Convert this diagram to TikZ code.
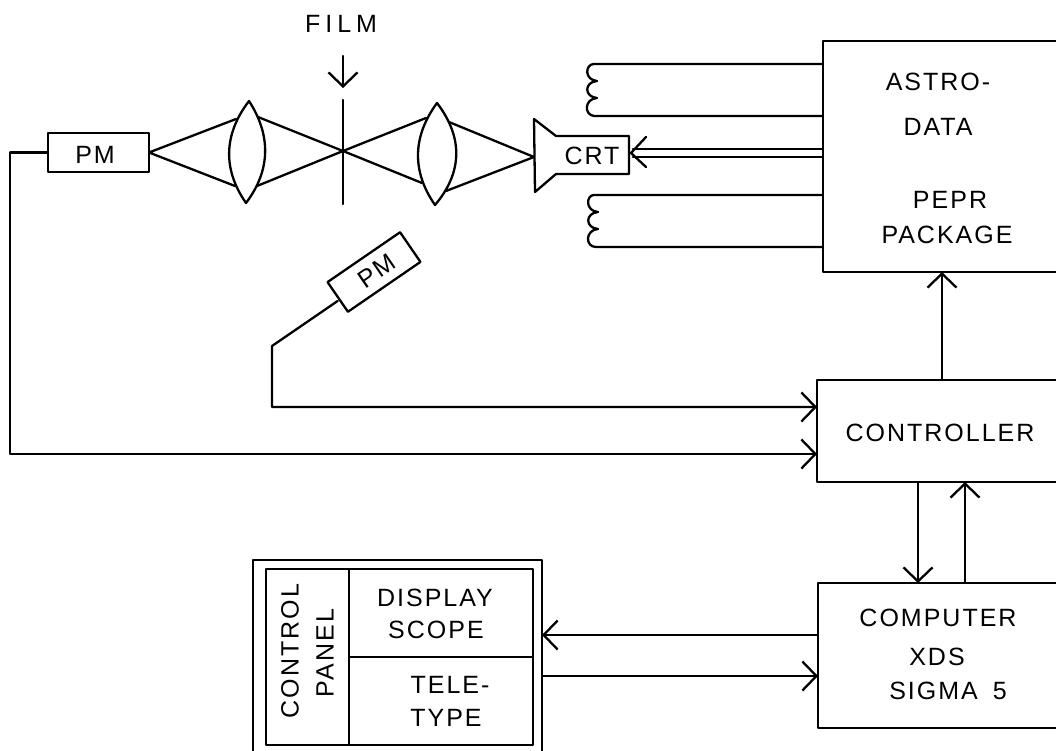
\documentclass[tikz,border=0pt]{standalone}
\usepackage{fontspec}
\setmainfont{Liberation Sans}[LetterSpace=8]
\newfontface\widefont{Liberation Sans}[LetterSpace=20]
\usetikzlibrary{arrows.meta}
\tikzset{
  ln/.style={line width=2.3pt,line join=round,line cap=round},
  boxn/.style={draw,ln,rectangle,inner sep=0pt,outer sep=0pt,anchor=north west},
  lbl/.style={inner sep=0pt,font=\fontsize{25}{28}\selectfont,anchor=center},
  arr/.style={ln,-{Straight Barb[length=14pt,width=29pt,line width=2.3pt]}},
}
\begin{document}
\begin{tikzpicture}[x=1pt,y=-1pt]
\clip (0,0) rectangle (1056,751);
\useasboundingbox (0,0) rectangle (1056,751);
% boxes
\node[boxn,minimum width=101pt,minimum height=39pt] (pma) at (48,133) {};
\node[boxn,minimum width=260pt,minimum height=231pt] (astro) at (823,41) {};
\node[boxn,minimum width=260pt,minimum height=102pt] (ctrl) at (817,380) {};
\node[boxn,minimum width=260pt,minimum height=145pt] (comp) at (818,583) {};
\node[boxn,minimum width=289pt,minimum height=210pt] (outer) at (253,560) {};
\node[boxn,minimum width=267pt,minimum height=176pt] (inner) at (266,569) {};
\node[draw,ln,rectangle,inner sep=0pt,outer sep=0pt,minimum width=88pt,minimum height=36pt,rotate=34.5] (pmb) at (374,272) {};
% panel dividers
\coordinate (vt) at (349,569); \coordinate (vb) at (349,745);
\coordinate (hl) at (349,657); \coordinate (hr) at (533,657);
\draw[ln] (vt) -- (vb);
\draw[ln] (hl) -- (hr);
% labels
\node[lbl] (tfilm) at (341,24) {\widefont FILM};
\node[lbl] (tpma) at (95,155) {PM};
\node[lbl,rotate=34.5] (tpmb) at (377,271) {PM};
\node[lbl] (tcrt) at (592,156) {CRT};
\node[lbl] (t1) at (938,82) {ASTRO-};
\node[lbl] (t2) at (938,127) {DATA};
\node[lbl] (t3) at (950,200) {PEPR};
\node[lbl] (t4) at (947,235) {PACKAGE};
\node[lbl] (t5) at (940,433) {CONTROLLER};
\node[lbl] (t6) at (938,618) {COMPUTER};
\node[lbl] (t7) at (937,657) {XDS};
\node[lbl] (t8) at (948,691) {SIGMA\hspace{6pt} 5};
\node[lbl] (t9) at (435,598) {DISPLAY};
\node[lbl] (t10) at (436,630) {SCOPE};
\node[lbl] (t11) at (450,685) {TELE-};
\node[lbl] (t12) at (446,718) {TYPE};
\node[lbl,rotate=90] (t13) at (290,651) {CONTROL};
\node[lbl,rotate=90] (t14) at (325,653) {PANEL};
% lenses and film
\coordinate (lat) at (249,101); \coordinate (lab) at (246,203);
\coordinate (lbt) at (437,103); \coordinate (lbb) at (435,205);
\draw[ln] (lat) .. controls (223,135) and (223,170) .. (lab) .. controls (271,170) and (271,135) .. (lat) -- cycle;
\draw[ln] (lbt) .. controls (412,137) and (412,172) .. (lbb) .. controls (463,172) and (463,137) .. (lbt) -- cycle;
\coordinate (fa) at (343,100); \coordinate (fb) at (343,204); \coordinate (fc) at (343,151);
\draw[ln] (fa) -- (fb);
\coordinate (fta) at (343,56); \coordinate (ftb) at (343,88);
\draw[arr] (fta) -- (ftb);
% rays
\coordinate (crttip) at (534,157);
\coordinate (r1) at (236,119); \coordinate (r2) at (235,186);
\coordinate (r3) at (258,117); \coordinate (r4) at (257,186);
\coordinate (r5) at (426,118); \coordinate (r6) at (422,183);
\coordinate (r7) at (449,122); \coordinate (r8) at (446,191);
\draw[ln] (r1) -- (pma.east) -- (r2);
\draw[ln] (r3) -- (fc) -- (r4);
\draw[ln] (r5) -- (fc) -- (r6);
\draw[ln] (r7) -- (crttip) -- (r8);
% CRT
\draw[ln] (534,119) -- (556,136) -- (629,136) -- (629,174) -- (556,174) -- (535,192) -- cycle;
% coils
\coordinate (ca) at (823,64); \coordinate (cb) at (823,116);
\coordinate (cc) at (823,195); \coordinate (cd) at (823,247);
\draw[ln] (ca) -- (594,64) .. controls (585,64) and (584,80) .. (597,81) .. controls (584,82) and (584,97) .. (597,98) .. controls (584,99) and (584,115) .. (594,116) -- (cb);
\draw[ln] (cc) -- (594,195) .. controls (586,195) and (585,211) .. (598,212) .. controls (585,213) and (585,228) .. (598,229) .. controls (585,230) and (585,247) .. (596,247) -- (cd);
% CRT double input
\coordinate (da) at (823,149); \coordinate (db) at (823,157);
\coordinate (dc) at (633,149); \coordinate (dd) at (633,157); \coordinate (de) at (631,153);
\coordinate (df) at (646,137); \coordinate (dg) at (646,167);
\draw[ln] (da) -- (dc);
\draw[ln] (db) -- (dd);
\draw[ln] (df) -- (de) -- (dg);
% wires
\draw[arr] (pma.west) -- (pma.west -| 10,0) -- (10,454) -- (ctrl.west |- 0,454);
\draw[arr] ([yshift=-4pt]pmb.west) -- (272,346) -- (272,407) -- (ctrl.west |- 0,407);
\draw[arr] (ctrl.north -| 942,0) -- (astro.south -| 942,0);
\draw[arr] (ctrl.south -| 918,0) -- (comp.north -| 918,0);
\draw[arr] (comp.north -| 965,0) -- (ctrl.south -| 965,0);
\draw[arr] (comp.west |- 0,635) -- (outer.east |- 0,635);
\draw[arr] (outer.east |- 0,676) -- (comp.west |- 0,676);
\end{tikzpicture}
\end{document}
